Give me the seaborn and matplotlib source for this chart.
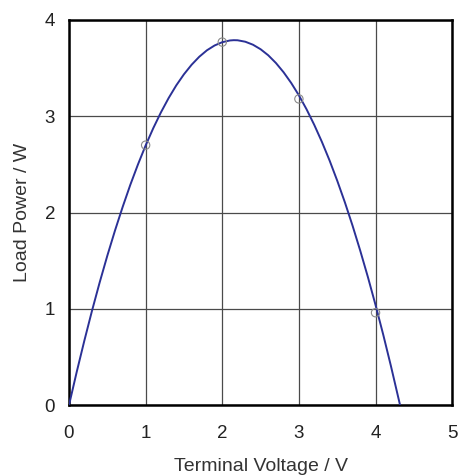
import matplotlib
matplotlib.use("Agg")
import matplotlib.pyplot as plt
import seaborn as sns
import pandas as pd

# Measured points
volts = [1, 2, 3, 4]
power = [2.70, 3.77, 3.18, 0.96]

# Fitted curve
curve_v = [0.0, 0.1, 0.2, 0.3, 0.4, 0.5, 0.6, 0.7, 0.8, 0.9, 1.0, 1.1, 1.2, 1.3,
           1.4, 1.5, 1.6, 1.7, 1.8, 1.9, 2.0, 2.1, 2.15, 2.2, 2.3, 2.4, 2.5, 2.6,
           2.7, 2.8, 2.9, 3.0, 3.1, 3.2, 3.3, 3.4, 3.5, 3.6, 3.7, 3.8, 3.9, 4.0,
           4.1, 4.2, 4.32]
curve_p = [0.0, 0.343, 0.669, 0.980, 1.274, 1.552, 1.813, 2.058, 2.288, 2.500,
           2.697, 2.877, 3.041, 3.189, 3.321, 3.436, 3.535, 3.618, 3.685, 3.735,
           3.769, 3.787, 3.790, 3.789, 3.774, 3.743, 3.696, 3.633, 3.553, 3.457,
           3.345, 3.217, 3.072, 2.911, 2.734, 2.541, 2.331, 2.106, 1.864, 1.605,
           1.331, 1.040, 0.733, 0.409, 0.0]

x_ticks = [0, 1, 2, 3, 4, 5]
y_ticks = [0, 1, 2, 3, 4]

sns.set_style("white")
plt.rcParams["font.family"] = ["Liberation Sans", "DejaVu Sans"]

fig, ax = plt.subplots(figsize=(4.6, 4.75), dpi=100)
fig.subplots_adjust(left=0.15, right=0.983, top=0.958, bottom=0.147)

pts = pd.DataFrame({"V": volts, "P": power})
fit = pd.DataFrame({"V": curve_v, "P": curve_p})

sns.lineplot(data=fit, x="V", y="P", ax=ax, color="#2b3196", linewidth=1.4,
             sort=False, zorder=3)
sns.scatterplot(data=pts, x="V", y="P", ax=ax, marker="o", s=36,
                facecolor="none", edgecolor="#8a8a8a", linewidth=0.8, zorder=4)

ax.set_xlim(0, 5)
ax.set_ylim(0, 4)
ax.set_xticks(x_ticks)
ax.set_yticks(y_ticks)
ax.grid(True, color="#4a4a4a", linewidth=0.9)
ax.set_axisbelow(True)
for s in ax.spines.values():
    s.set_visible(True)
    s.set_color("black")
    s.set_linewidth(1.8)
ax.tick_params(axis="both", direction="out", length=6, width=1, color="#555555",
               labelsize=13.5, labelcolor="#222222")
ax.tick_params(axis="x", pad=8)
ax.tick_params(axis="y", pad=4)
ax.set_xlabel("Terminal Voltage / V", fontsize=14, color="#333333", labelpad=12)
ax.set_ylabel("Load Power / W", fontsize=14, color="#333333", labelpad=10)

fig.savefig("out.png", dpi=100)
